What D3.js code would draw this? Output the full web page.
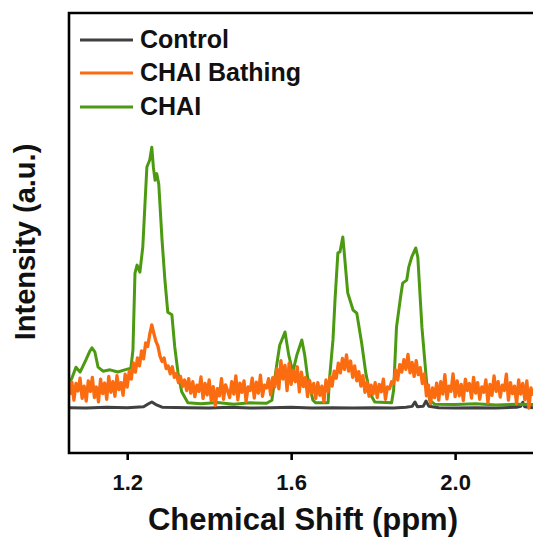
<!DOCTYPE html>
<html>
<head>
<meta charset="utf-8">
<script src="https://cdn.jsdelivr.net/npm/d3@7"></script>
<style>
  body { margin: 0; background: #fff; }
  svg text { font-family: 'Liberation Sans', Arial, sans-serif; font-weight: bold; }
</style>
</head>
<body>
<div id="chart"></div>
<script>
// series names and colours (legend order)
const seriesNames = ['Control', 'CHAI Bathing', 'CHAI']
const seriesColors = ['#404040', '#fb6c10', '#4c9a12']
const xTicks = [1.2, 1.6, 2.0]

// CHAI: [ppm, intensity]
const chaiData = [
  [1.060, 16.2], [1.065, 17.0], [1.075, 19.5], [1.085, 18.4], [1.099, 21.1], [1.108, 23.0],
  [1.114, 23.9], [1.121, 23.0], [1.129, 19.5], [1.141, 18.6], [1.158, 18.9], [1.177, 18.4],
  [1.194, 18.9], [1.209, 19.3], [1.214, 23.4], [1.219, 40.9], [1.224, 42.7], [1.231, 41.1],
  [1.238, 46.8], [1.243, 55.9], [1.248, 65.0], [1.255, 66.6], [1.260, 69.5], [1.264, 64.8],
  [1.268, 62.0], [1.272, 63.5], [1.277, 61.1], [1.285, 48.4], [1.292, 39.3], [1.299, 32.0],
  [1.309, 31.4], [1.316, 24.1], [1.324, 18.2], [1.333, 13.9], [1.348, 11.4], [1.380, 11.2],
  [1.420, 11.5], [1.460, 11.1], [1.500, 11.4], [1.540, 11.3], [1.553, 12.0], [1.563, 18.9],
  [1.572, 24.5], [1.585, 27.5], [1.594, 22.3], [1.604, 18.4], [1.614, 22.3], [1.626, 25.7],
  [1.633, 22.3], [1.640, 17.3], [1.653, 12.0], [1.660, 11.4], [1.690, 11.4], [1.694, 17.3],
  [1.702, 25.7], [1.707, 34.8], [1.714, 45.5], [1.719, 45.7], [1.726, 49.1], [1.729, 46.1],
  [1.738, 36.4], [1.751, 32.5], [1.760, 31.8], [1.772, 25.0], [1.782, 18.2], [1.792, 13.6],
  [1.804, 11.6], [1.845, 11.4], [1.850, 14.3], [1.857, 28.6], [1.867, 35.5], [1.872, 38.6],
  [1.882, 39.3], [1.887, 42.3], [1.894, 44.5], [1.904, 46.6], [1.909, 44.5], [1.919, 28.6],
  [1.931, 15.5], [1.938, 12.0], [1.950, 11.1], [2.000, 11.0], [2.050, 11.2], [2.100, 10.9],
  [2.150, 11.1], [2.190, 11.0]
]

// Control: [ppm, intensity]
const controlData = [
  [1.060, 10.3], [1.100, 10.2], [1.150, 10.4], [1.200, 10.3], [1.240, 10.5], [1.252, 11.2],
  [1.260, 11.6], [1.270, 11.0], [1.285, 10.4], [1.350, 10.3], [1.400, 10.2], [1.450, 10.4],
  [1.500, 10.2], [1.550, 10.3], [1.600, 10.4], [1.650, 10.2], [1.700, 10.3], [1.750, 10.2],
  [1.800, 10.3], [1.850, 10.2], [1.880, 10.4], [1.895, 10.6], [1.902, 11.6], [1.908, 10.5],
  [1.922, 10.6], [1.929, 11.8], [1.936, 10.6], [1.960, 10.3], [2.000, 10.2], [2.050, 10.3],
  [2.100, 10.2], [2.150, 10.4], [2.160, 10.6], [2.165, 11.5], [2.170, 10.5], [2.190, 10.3]
]

// CHAI Bathing: noisy trace sampled every 0.005 ppm from 1.060
const bathingStart = 1.060
const bathingStep = 0.005
const bathingValues = [
  13.2, 16.1, 12.0, 15.8, 14.1, 17.0, 12.4, 15.2, 11.8, 16.4,
  14.0, 17.2, 12.6, 15.0, 11.6, 16.8, 13.5, 15.9, 12.2, 17.4,
  13.8, 16.2, 12.9, 17.6, 14.4, 16.0, 13.1, 17.9, 15.0, 18.6,
  16.8, 20.5, 18.4, 21.6, 19.8, 23.2, 21.4, 25.0, 24.2, 27.0,
  29.1, 27.2, 25.4, 24.3, 22.0, 20.8, 21.6, 19.2, 19.8, 18.0,
  19.6, 17.2, 18.1, 16.0, 17.4, 15.1, 16.6, 14.2, 16.9, 13.6,
  16.2, 12.8, 15.4, 14.0, 17.3, 12.4, 15.8, 13.2, 16.6, 11.9,
  15.1, 10.8, 14.6, 13.0, 16.9, 12.2, 15.5, 14.1, 12.6, 16.2,
  13.4, 17.5, 12.1, 15.9, 13.8, 16.4, 11.7, 15.0, 14.2, 17.0,
  12.5, 16.1, 13.6, 17.7, 12.9, 15.4, 14.8, 16.9, 13.2, 17.1,
  15.0, 19.2, 14.6, 21.0, 16.8, 19.9, 14.2, 20.4, 15.6, 18.8,
  16.2, 19.6, 13.9, 18.4, 15.1, 17.2, 12.8, 16.5, 13.6, 15.8,
  12.4, 16.0, 13.1, 15.2, 11.6, 16.6, 14.0, 17.4, 15.2, 18.6,
  17.0, 20.4, 18.2, 21.5, 19.0, 22.3, 18.6, 20.9, 17.2, 19.8,
  16.4, 18.5, 15.2, 17.6, 13.8, 16.1, 12.9, 15.4, 13.4, 16.0,
  12.6, 15.6, 13.9, 16.8, 12.2, 15.0, 14.6, 16.2, 15.8, 18.9,
  16.6, 20.1, 18.4, 21.2, 19.0, 22.4, 18.2, 20.6, 17.4, 21.0,
  17.8, 19.4, 15.8, 18.0, 13.0, 15.4, 11.2, 14.8, 12.6, 15.9,
  12.0, 16.2, 13.4, 17.8, 12.3, 15.2, 14.0, 18.0, 12.8, 16.4,
  13.0, 15.6, 11.9, 16.8, 14.2, 15.8, 12.5, 17.2, 13.6, 16.0,
  12.2, 15.0, 13.8, 16.6, 11.4, 15.6, 13.1, 17.5, 14.0, 16.2,
  12.7, 15.4, 14.2, 17.9, 12.0, 16.0, 13.5, 15.2, 11.2, 16.6,
  13.4, 15.8, 12.1, 16.4, 10.2, 14.8, 13.0
]
const bathingData = bathingValues.map((v, i) => [bathingStart + i * bathingStep, v])

const width = 533, height = 540
const margin = { top: 13, left: 69, bottom: 87 }
const plotBottom = height - margin.bottom

const svg = d3.select('#chart').append('svg')
  .attr('width', width)
  .attr('height', height)

const x = d3.scaleLinear().domain([1.058, 2.19]).range([margin.left, 533])
const y = d3.scaleLinear().domain([0, 100]).range([plotBottom, margin.top])

svg.append('clipPath').attr('id', 'clip')
  .append('rect')
  .attr('x', margin.left).attr('y', margin.top)
  .attr('width', width - margin.left).attr('height', plotBottom - margin.top)

const line = d3.line().x((d) => x(d[0])).y((d) => y(d[1]))

const traces = [
  { data: controlData, color: seriesColors[0], w: 3 },
  { data: chaiData, color: seriesColors[2], w: 3 },
  { data: bathingData, color: seriesColors[1], w: 3.3 },
]
const plot = svg.append('g').attr('clip-path', 'url(#clip)')
traces.forEach((t) => {
  plot.append('path')
    .datum(t.data)
    .attr('d', line)
    .attr('fill', 'none')
    .attr('stroke', t.color)
    .attr('stroke-width', t.w)
    .attr('stroke-linejoin', 'round')
})

// frame: top, left, bottom (right edge is out of view)
svg.append('path')
  .attr('d', `M${width + 5},${margin.top}H${margin.left}V${plotBottom}H${width + 5}`)
  .attr('fill', 'none')
  .attr('stroke', '#000')
  .attr('stroke-width', 2.6)

const xAxis = svg.append('g')
  .attr('transform', `translate(0,${plotBottom})`)
  .call(d3.axisBottom(x).tickValues(xTicks).tickFormat(d3.format('.1f')).tickSize(7).tickPadding(14))
xAxis.select('.domain').remove()
xAxis.selectAll('line').attr('stroke', '#000').attr('stroke-width', 2.6)
xAxis.selectAll('text').attr('fill', '#111').style('font-size', '22px')

svg.append('text')
  .attr('x', 303)
  .attr('y', 530)
  .attr('text-anchor', 'middle')
  .style('font-size', '31px')
  .attr('fill', '#111')
  .text('Chemical Shift (ppm)')

svg.append('text')
  .attr('transform', 'translate(35,242) rotate(-90)')
  .attr('text-anchor', 'middle')
  .style('font-size', '29px')
  .attr('fill', '#111')
  .text('Intensity (a.u.)')

// legend
const legendY = [40, 73, 107]
seriesNames.forEach((name, i) => {
  svg.append('line')
    .attr('x1', 80).attr('x2', 133)
    .attr('y1', legendY[i]).attr('y2', legendY[i])
    .attr('stroke', seriesColors[i])
    .attr('stroke-width', 3)
  svg.append('text')
    .attr('x', 140)
    .attr('y', legendY[i] + 8)
    .style('font-size', '25px')
    .attr('fill', '#111')
    .text(name)
})
</script>
</body>
</html>
